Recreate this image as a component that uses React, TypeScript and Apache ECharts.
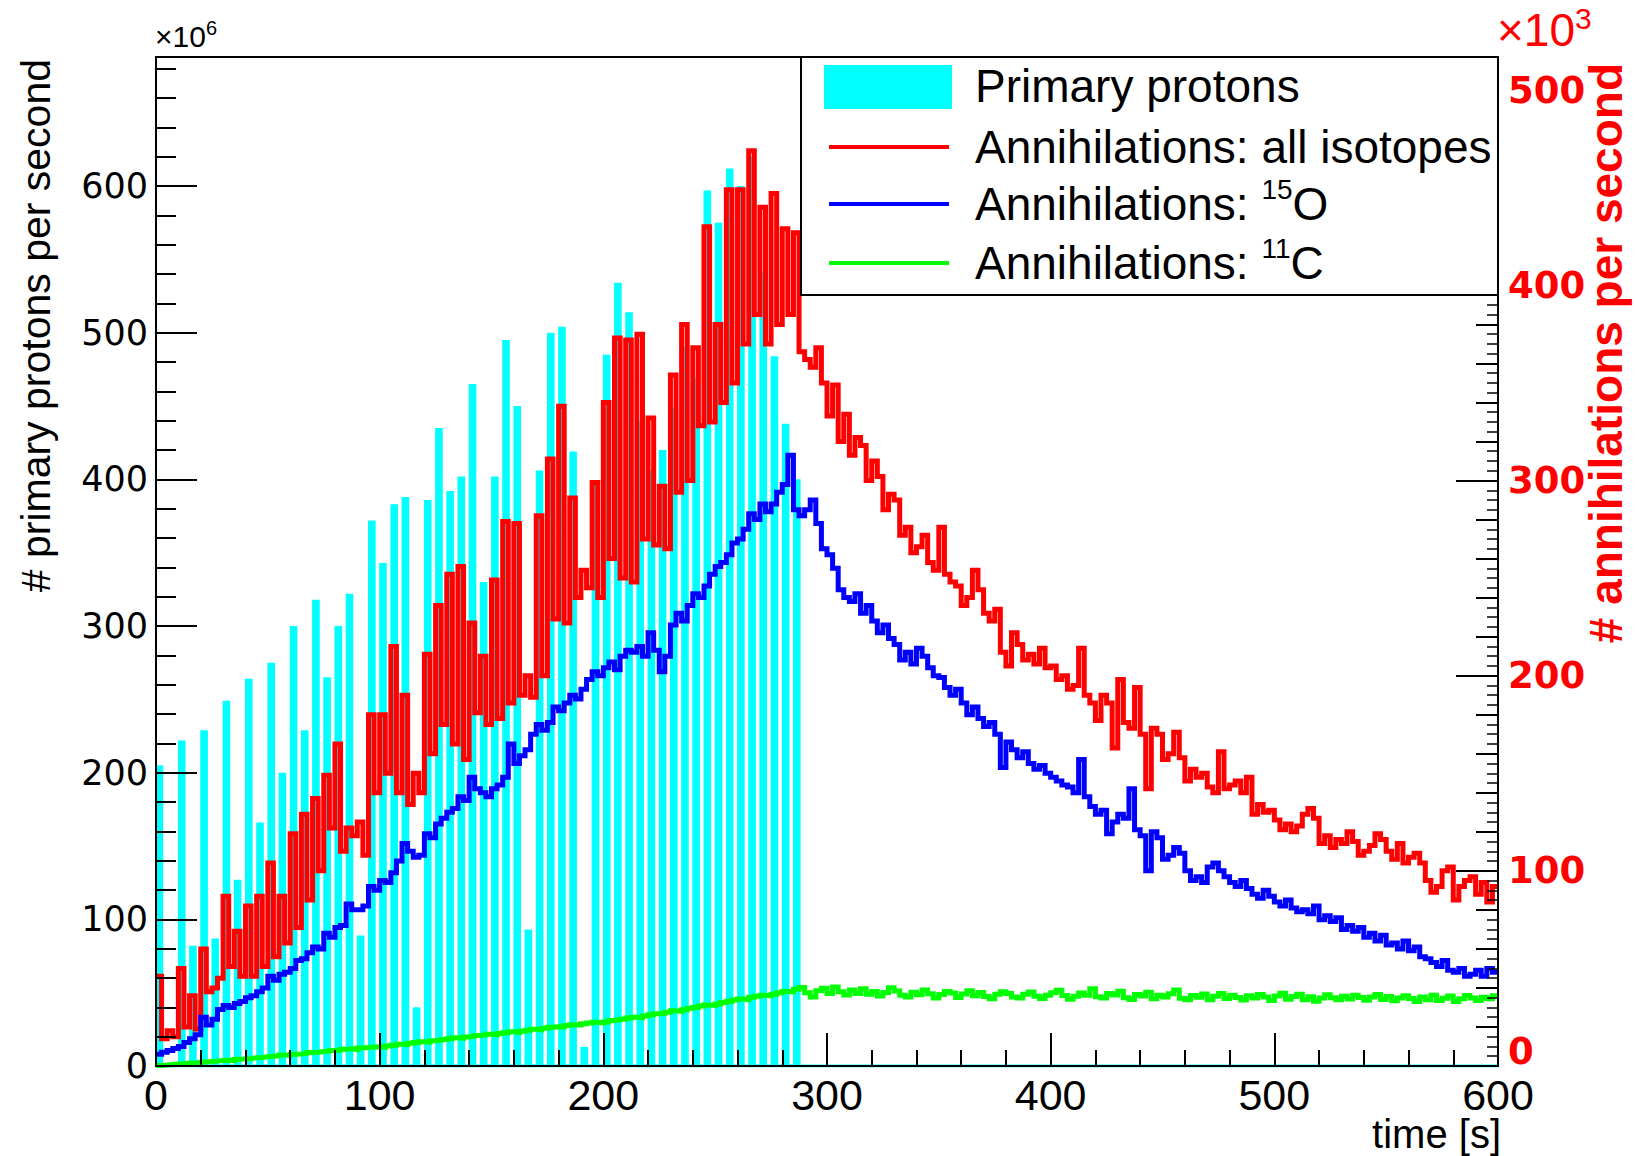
import React, { useEffect, useRef } from "react";
import * as echarts from "echarts";

// ---------------- data ----------------
const BIN_WIDTH = 2.5; // seconds per histogram bin
const X_MIN = 0;
const X_MAX = 600;
const LEFT_MAX = 688; // x10^6 protons / s
const RIGHT_MAX = 517; // x10^3 annihilations / s
const SPILL_WIDTH = 3.4; // s

const xTickValues = [0, 100, 200, 300, 400, 500, 600];

// centre time of each beam spill [s]
const spillTimes = [
  1.5, 6.5, 11.5, 16.5, 21.5, 26.5, 31.5, 36.5, 41.5, 46.5,
  51.5, 56.5, 61.5, 66.5, 71.5, 76.5, 81.5, 86.5, 91.5, 96.5,
  101.5, 106.5, 111.5, 116.5, 121.5, 126.5, 131.5, 136.5, 141.5, 146.5,
  151.5, 156.5, 161.5, 166.5, 171.5, 176.5, 181.5, 186.5, 191.5, 196.5,
  201.5, 206.5, 211.5, 216.5, 221.5, 226.5, 231.5, 236.5, 241.5, 246.5,
  251.5, 256.5, 261.5, 266.5, 271.5, 276.5, 281.5, 286.5,
];
// primary protons per second (x10^6)
const spillProtons = [
  205, 0, 222, 82, 229, 87, 249, 127, 264, 166,
  275, 200, 300, 229, 318, 265, 300, 322, 89, 372,
  343, 383, 388, 40, 386, 435, 392, 402, 465, 330,
  402, 495, 450, 93, 406, 500, 504, 419, 13, 399,
  485, 534, 514, 440, 406, 420, 449, 491, 470, 597,
  575, 612, 600, 620, 541, 484, 438, 400,
];

// annihilations per second (x10^3), 2.5 s bins from t = 0
const redAll = [
  46, 14, 18, 15, 50, 20, 36, 19, 60, 38, 40, 45, 87, 51, 69, 46, 82, 46, 87, 51,
  104, 56, 87, 63, 119, 71, 129, 85, 137, 100, 149, 122, 165, 110, 122, 118, 125, 108, 180, 140,
  180, 150, 215, 140, 190, 134, 150, 140, 211, 160, 236, 175, 252, 165, 256, 157, 227, 181, 210, 175,
  249, 178, 279, 186, 278, 190, 200, 189, 282, 200, 311, 229, 338, 227, 291, 240, 254, 245, 299, 240,
  340, 260, 373, 250, 372, 248, 375, 270, 332, 267, 297, 265, 354, 294, 380, 300, 368, 328, 430, 330,
  380, 340, 449, 350, 449, 370, 469, 385, 440, 370, 447, 380, 429, 385, 427, 366,
  362, 358, 368, 350, 333, 349, 320, 334, 313, 322, 318, 300, 310, 302, 285, 293,
  290, 272, 276, 263, 266, 272, 258, 254, 276, 252, 248, 246, 236, 240, 254, 244,
  232, 228, 234, 212, 205, 222, 216, 208, 211, 206, 214, 204, 205, 198, 200, 193,
  195, 214, 190, 186, 177, 190, 186, 163, 198, 176, 173, 194, 170, 142, 173, 170,
  157, 160, 171, 158, 146, 152, 148, 150, 143, 140, 161, 142, 144, 146, 140, 148,
  129, 134, 130, 131, 126, 121, 124, 120, 123, 129, 132, 127, 114, 118, 112, 116,
  114, 120, 115, 108, 110, 113, 119, 116, 110, 106, 114, 104, 107, 109, 104, 95,
  89, 92, 100, 102, 85, 92, 95, 97, 88, 94, 84, 92,
];

const blue15O = [
  6, 7, 8, 9, 10, 12, 14, 16, 25, 21,
  24, 29, 31, 30, 32, 33, 35, 36, 38, 40,
  46, 44, 47, 48, 50, 54, 55, 58, 61, 60,
  68, 66, 71, 72, 83, 80, 80, 82, 92, 90,
  95, 94, 99, 105, 114, 110, 107, 108, 119, 117,
  124, 127, 130, 132, 138, 136, 148, 142, 140, 138,
  142, 144, 148, 165, 155, 159, 162, 170, 175, 172,
  176, 184, 182, 186, 190, 188, 193, 198, 202, 200,
  204, 207, 203, 210, 213, 212, 215, 210, 222, 213,
  202, 210, 226, 232, 228, 236, 242, 240, 246, 252,
  256, 258, 262, 268, 270, 275, 283, 280, 288, 284,
  288, 294, 298, 313, 285, 282,
  285, 290, 278, 265, 262, 255, 244, 240, 238, 242, 232, 236, 228, 222, 226, 219,
  216, 208, 212, 206, 214, 210, 204, 200, 199, 194, 190, 193, 186, 180, 184, 178,
  174, 176, 170, 153, 166, 162, 158, 161, 155, 152, 154, 150, 148, 146, 144, 143,
  140, 157, 138, 133, 129, 131, 119, 125, 129, 127, 142, 121, 118, 100, 120, 117,
  106, 108, 112, 109, 100, 95, 97, 94, 102, 104, 100, 97, 94, 92, 95, 91,
  88, 86, 90, 87, 84, 82, 85, 81, 79, 80, 78, 82, 75, 77, 74, 76,
  70, 72, 69, 71, 66, 68, 64, 67, 62, 63, 60, 64, 59, 61, 56, 55,
  53, 51, 54, 49, 48, 50, 46, 47, 49, 46, 50, 48,
];

const green11C = [
  0.3, 0.5, 0.8, 1.0, 1.2, 1.5, 1.6, 1.9, 2.1, 2.3,
  2.5, 2.8, 3.0, 2.7, 3.4, 3.7, 3.9, 4.2, 4.4, 4.7,
  5.0, 5.2, 5.6, 5.4, 6.0, 6.2, 6.5, 6.9, 7.1, 7.4,
  7.6, 8.0, 8.1, 8.6, 8.8, 8.5, 9.2, 9.5, 9.7, 9.9,
  9.6, 10.2, 10.6, 11.2, 11.0, 11.6, 12.0, 12.4, 12.2, 13.0,
  13.2, 13.6, 14.0, 14.5, 14.2, 14.9, 15.2, 15.6, 15.9, 16.3,
  16.0, 16.6, 17.0, 17.5, 17.2, 17.8, 18.3, 18.8, 18.6, 19.4,
  19.8, 20.1, 20.0, 20.8, 21.2, 21.0, 21.6, 22.0, 22.4, 22.1,
  22.6, 23.3, 23.6, 24.0, 24.6, 25.0, 24.7, 25.6, 26.2, 26.8,
  27.0, 27.6, 28.3, 28.0, 28.8, 29.6, 30.0, 30.8, 31.2, 31.0,
  31.8, 32.6, 33.0, 33.8, 34.3, 34.0, 35.2, 35.8, 36.3, 36.0,
  36.8, 37.5, 38.2, 38.0, 39.3, 40.2,
  37.5, 35.4, 38.6, 39.8, 37.2, 40.5, 38.0, 36.4, 38.9, 37.1,
  39.6, 36.8, 38.2, 35.9, 37.6, 40.1, 38.4, 36.2, 35.4, 37.8,
  36.5, 38.9, 37.0, 34.8, 36.6, 38.2, 37.4, 35.1, 36.9, 38.6,
  36.0, 37.7, 35.6, 34.4, 36.8, 38.0, 37.1, 35.3, 34.9, 36.7,
  37.9, 35.8, 34.6, 36.3, 37.5, 38.8, 36.1, 34.2, 35.7, 37.4,
  36.2, 39.6, 35.5, 34.8, 37.1, 36.4, 38.3, 35.0, 34.1, 36.6,
  35.9, 37.8, 34.5, 36.2, 35.3, 37.0, 38.9, 34.7, 33.9, 36.1,
  35.2, 36.9, 34.0, 35.8, 37.2, 34.6, 36.3, 35.1, 33.8, 36.0,
  34.9, 36.6, 35.4, 33.6, 35.9, 37.3, 34.2, 35.6, 36.8, 34.0,
  35.5, 33.2, 34.8, 36.5, 35.0, 33.9, 35.8, 34.3, 36.2, 35.1,
  33.7, 35.4, 36.6, 34.1, 35.6, 33.4, 34.9, 36.0, 34.6, 33.1,
  35.3, 34.0, 36.2, 33.5, 34.7, 35.9, 33.0, 34.4, 36.1, 34.8,
  33.6, 35.2, 34.5, 36.0,
];

const legendLabels = [
  "Primary protons",
  "Annihilations: all isotopes",
  "Annihilations: {s|15}O",
  "Annihilations: {s|11}C",
];

// ---------------- helpers ----------------
function toSteps(vals: number[]) {
  const pts = vals.map((v, i) => [i * BIN_WIDTH, v]);
  pts.push([vals.length * BIN_WIDTH, vals[vals.length - 1]]);
  return pts;
}

const FONT = "Liberation Sans, Arial, Helvetica, sans-serif";
const FONT_WIDE = "DejaVu Sans, Verdana, sans-serif";
const BLACK = "#000000";
const RED = "#ff0000";
const BLUE = "#0000ff";
const GREEN = "#00ff00";
const CYAN = "#00ffff";
const LINE_W = 5;

const GRID = { left: 156, right: 137, top: 57, bottom: 90 };

function buildOption(): any {
  const plotRight = 1635 - GRID.right;
  const legendX = 801;
  const legendY = GRID.top;
  const legendW = plotRight - legendX;
  const legendH = 238;
  const rowY = [86, 147, 204, 263];
  const supRich = {
    s: { fontSize: 28, fontFamily: FONT, fill: BLACK, verticalAlign: "top", lineHeight: 58 },
  };

  return {
    animation: false,
    backgroundColor: "#ffffff",
    grid: {
      ...GRID,
      show: true,
      borderColor: BLACK,
      borderWidth: 2,
      backgroundColor: "transparent",
      containLabel: false,
      outerBoundsMode: "none",
    },
    xAxis: {
      type: "value",
      min: X_MIN,
      max: X_MAX,
      interval: 100,
      z: 10,
      axisLine: { show: true, lineStyle: { color: BLACK, width: 2 } },
      axisTick: { show: true, inside: true, length: 33, lineStyle: { color: BLACK, width: 2 } },
      minorTick: { show: true, splitNumber: 5, length: 16, lineStyle: { color: BLACK, width: 2 } },
      splitLine: { show: false },
      axisLabel: {
        fontFamily: FONT,
        fontSize: 43,
        lineHeight: 30,
        color: BLACK,
        margin: 14,
        formatter: (v: number) => (xTickValues.includes(v) ? String(v) : ""),
      },
    },
    yAxis: [
      {
        type: "value",
        position: "left",
        min: 0,
        max: LEFT_MAX,
        interval: 100,
        z: 10,
        axisLine: { show: true, lineStyle: { color: BLACK, width: 2 } },
        axisTick: { show: true, inside: true, length: 41, lineStyle: { color: BLACK, width: 2 } },
        minorTick: { show: true, splitNumber: 5, length: 20, lineStyle: { color: BLACK, width: 2 } },
        splitLine: { show: false },
        axisLabel: {
          fontFamily: FONT_WIDE,
          fontSize: 35,
          color: BLACK,
          margin: 8,
          showMaxLabel: false,
        },
      },
      {
        type: "value",
        position: "right",
        min: 0,
        max: RIGHT_MAX,
        interval: 100,
        z: 10,
        axisLine: { show: true, lineStyle: { color: BLACK, width: 2 } },
        axisTick: { show: true, inside: true, length: 42, lineStyle: { color: BLACK, width: 2 } },
        minorTick: { show: true, splitNumber: 5, length: 22, lineStyle: { color: BLACK, width: 2 } },
        splitLine: { show: false },
        axisLabel: {
          fontFamily: FONT_WIDE,
          fontSize: 37,
          lineHeight: 24,
          fontWeight: "bold",
          color: RED,
          margin: 10,
          showMaxLabel: false,
          formatter: (v: number) => (v === 0 ? "{z|0}" : String(v)),
          rich: {
            z: {
              fontFamily: FONT_WIDE,
              fontSize: 37,
              fontWeight: "bold",
              color: RED,
              lineHeight: 24,
              padding: [0, 0, 30, 0],
            },
          },
        },
      },
      {
        type: "value",
        position: "right",
        min: 0,
        max: RIGHT_MAX,
        interval: 20,
        z: 10,
        axisLine: { show: false },
        axisTick: { show: true, inside: true, length: 22, lineStyle: { color: BLACK, width: 2 } },
        minorTick: { show: true, splitNumber: 4, length: 11, lineStyle: { color: BLACK, width: 1.5 } },
        splitLine: { show: false },
        axisLabel: { show: false },
      },
    ],
    series: [
      {
        name: "Primary protons",
        type: "custom",
        xAxisIndex: 0,
        yAxisIndex: 0,
        clip: true,
        z: 2,
        encode: { x: 0, y: 1 },
        data: spillTimes.map((t, i) => [t, spillProtons[i]]),
        renderItem: (_params: any, api: any) => {
          const t = api.value(0);
          const v = api.value(1);
          const p1 = api.coord([t - SPILL_WIDTH / 2, v]);
          const p2 = api.coord([t + SPILL_WIDTH / 2, 0]);
          return {
            type: "rect",
            shape: { x: p1[0], y: p1[1], width: p2[0] - p1[0], height: p2[1] - p1[1] },
            style: { fill: CYAN },
          };
        },
      },
      {
        name: "Primary protons baseline",
        type: "line",
        xAxisIndex: 0,
        yAxisIndex: 0,
        z: 2,
        symbol: "none",
        data: [
          [X_MIN, 0],
          [X_MAX, 0],
        ],
        lineStyle: { color: CYAN, width: 3 },
      },
      {
        name: "Annihilations: all isotopes",
        type: "line",
        xAxisIndex: 0,
        yAxisIndex: 1,
        z: 3,
        step: "end",
        symbol: "none",
        data: toSteps(redAll),
        lineStyle: { color: RED, width: LINE_W, join: "miter", cap: "butt" },
      },
      {
        name: "Annihilations: 15O",
        type: "line",
        xAxisIndex: 0,
        yAxisIndex: 1,
        z: 4,
        step: "end",
        symbol: "none",
        data: toSteps(blue15O),
        lineStyle: { color: BLUE, width: LINE_W, join: "miter", cap: "butt" },
      },
      {
        name: "Annihilations: 11C",
        type: "line",
        xAxisIndex: 0,
        yAxisIndex: 1,
        z: 5,
        step: "end",
        symbol: "none",
        data: toSteps(green11C),
        lineStyle: { color: GREEN, width: LINE_W, join: "miter", cap: "butt" },
      },
    ],
    graphic: [
      // axis titles
      {
        type: "text",
        x: 36,
        y: 59,
        rotation: Math.PI / 2,
        z: 50,
        style: {
          text: "# primary protons per second",
          fontFamily: FONT,
          fontSize: 41,
          fill: BLACK,
          align: "right",
          verticalAlign: "middle",
        },
      },
      {
        type: "text",
        x: 1606,
        y: 63,
        rotation: Math.PI / 2,
        z: 50,
        style: {
          text: "# annihilations per second",
          fontFamily: FONT,
          fontSize: 46,
          fontWeight: "bold",
          fill: RED,
          align: "right",
          verticalAlign: "middle",
        },
      },
      {
        type: "text",
        x: 1501,
        y: 1134,
        z: 50,
        style: {
          text: "time [s]",
          fontFamily: FONT,
          fontSize: 40,
          lineHeight: 36,
          fill: BLACK,
          align: "right",
          verticalAlign: "middle",
        },
      },
      {
        type: "text",
        x: 155,
        y: 54,
        z: 50,
        style: {
          text: "×10{s|6}",
          fontFamily: FONT,
          fontSize: 30,
          fill: BLACK,
          align: "left",
          verticalAlign: "bottom",
          rich: { s: { fontSize: 20, fontFamily: FONT, fill: BLACK, verticalAlign: "top", lineHeight: 36 } },
        },
      },
      {
        type: "text",
        x: 1497,
        y: 57,
        z: 50,
        style: {
          text: "×10{s|3}",
          fontFamily: FONT,
          fontSize: 46,
          fill: RED,
          align: "left",
          verticalAlign: "bottom",
          rich: { s: { fontSize: 30, fontFamily: FONT, fill: RED, verticalAlign: "top", lineHeight: 54 } },
        },
      },
      // legend
      {
        type: "rect",
        z: 60,
        shape: { x: legendX, y: legendY, width: legendW, height: legendH },
        style: { fill: "#ffffff", stroke: BLACK, lineWidth: 2 },
      },
      {
        type: "rect",
        z: 61,
        shape: { x: 824, y: 65, width: 128, height: 44 },
        style: { fill: CYAN },
      },
      {
        type: "line",
        z: 61,
        shape: { x1: 829, y1: rowY[1], x2: 949, y2: rowY[1] },
        style: { stroke: RED, lineWidth: 4 },
      },
      {
        type: "line",
        z: 61,
        shape: { x1: 829, y1: rowY[2], x2: 949, y2: rowY[2] },
        style: { stroke: BLUE, lineWidth: 4 },
      },
      {
        type: "line",
        z: 61,
        shape: { x1: 829, y1: rowY[3], x2: 949, y2: rowY[3] },
        style: { stroke: GREEN, lineWidth: 4 },
      },
      ...legendLabels.map((label, i) => ({
        type: "text",
        z: 62,
        x: 975,
        y: rowY[i],
        style: {
          text: label,
          fontFamily: FONT,
          fontSize: 46,
          fill: BLACK,
          align: "left",
          verticalAlign: "middle",
          rich: supRich,
        },
      })),
    ],
  };
}

export default function App() {
  const ref = useRef<HTMLDivElement>(null);
  useEffect(() => {
    if (!ref.current) return;
    const chart = echarts.init(ref.current, null, { renderer: "svg" });
    chart.setOption(buildOption());
    return () => chart.dispose();
  }, []);
  return (
    <div
      ref={ref}
      style={{ position: "fixed", left: 0, top: 0, width: 1635, height: 1156, background: "#ffffff" }}
    />
  );
}
